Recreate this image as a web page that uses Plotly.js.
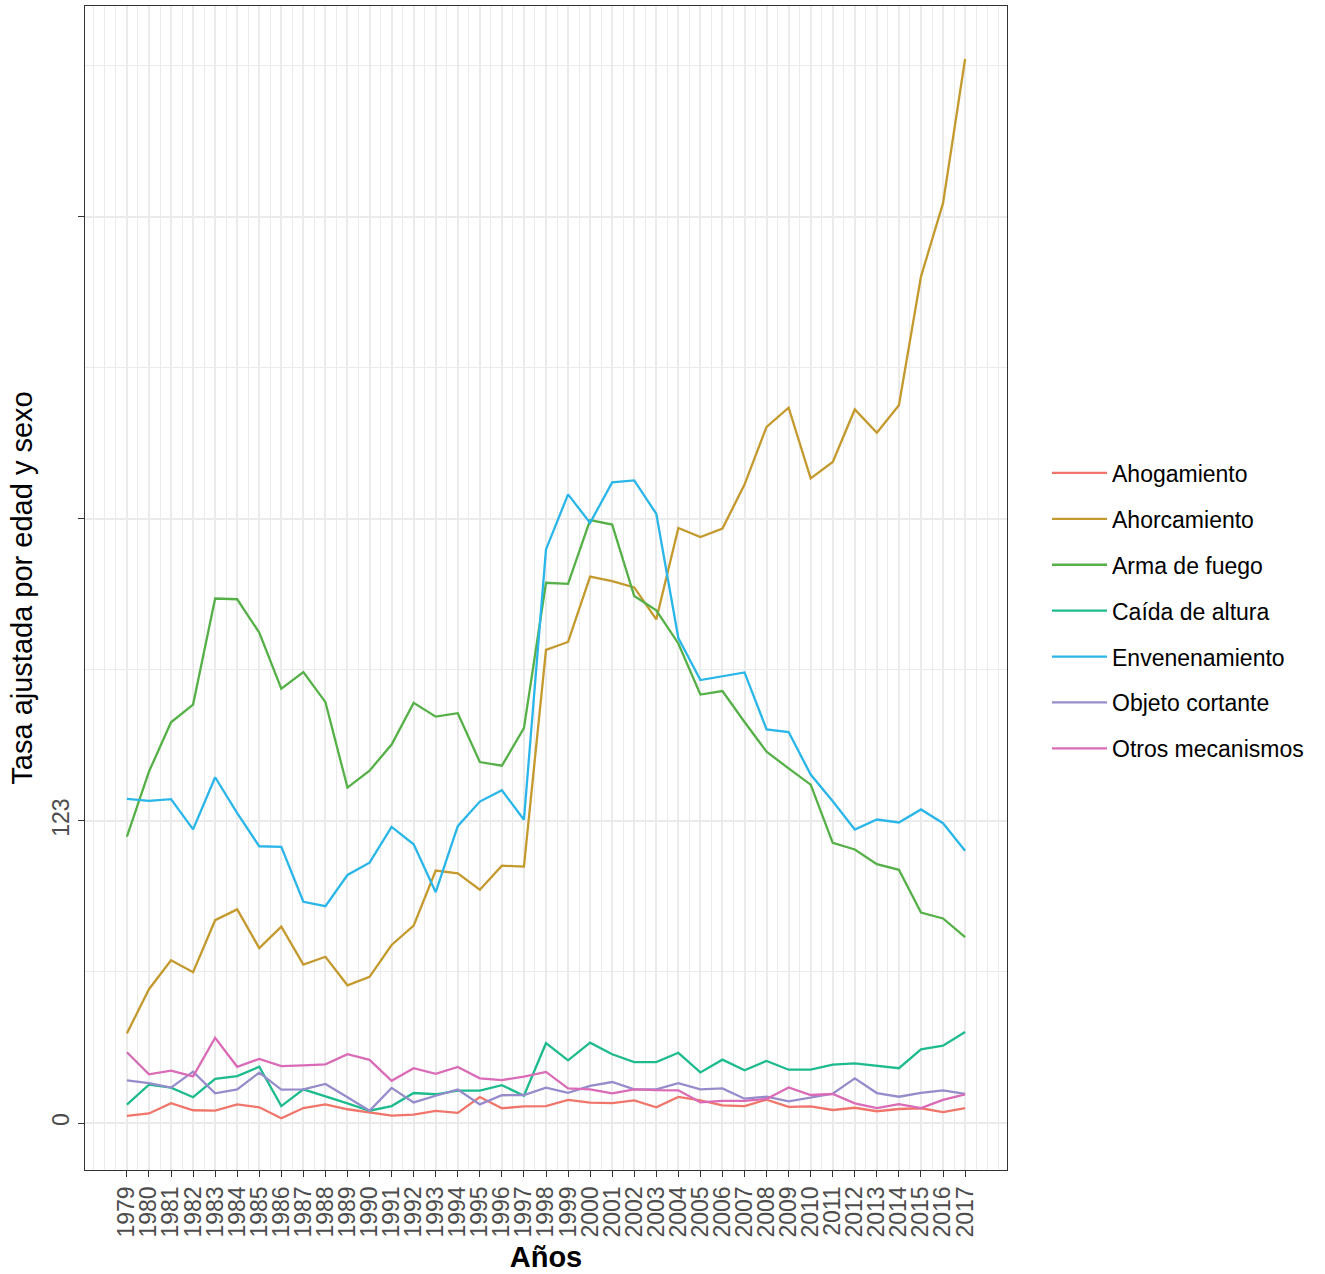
<!DOCTYPE html>
<html>
<head>
<meta charset="utf-8">
<script src="https://cdn.plot.ly/plotly-3.0.1.min.js"></script>
<style>html,body{margin:0;padding:0;background:#fff;}#chart{width:1325px;height:1274px;}</style>
</head>
<body>
<div id="chart"></div>
<script>
const years = [1979,1980,1981,1982,1983,1984,1985,1986,1987,1988,1989,1990,1991,1992,1993,1994,1995,1996,1997,1998,1999,2000,2001,2002,2003,2004,2005,2006,2007,2008,2009,2010,2011,2012,2013,2014,2015,2016,2017];
const seriesNames = ["Ahogamiento","Ahorcamiento","Arma de fuego","Caída de altura","Envenenamiento","Objeto cortante","Otros mecanismos"];
const ahogamiento = [2.9,3.9,8.1,5.2,5.0,7.6,6.4,1.9,6.1,7.6,5.6,4.4,3.0,3.4,4.9,4.1,10.6,6.0,6.8,6.9,9.4,8.3,8.1,9.2,6.4,10.6,9.2,7.2,6.9,9.5,6.6,6.8,5.3,6.2,4.8,5.7,6.0,4.4,6.1];
const ahorcamiento = [36.5,54.5,66.3,61.4,82.6,87.0,71.2,80.0,64.5,67.7,56.1,59.5,72.5,80.4,102.8,101.7,95.0,104.8,104.4,192.7,195.9,222.5,220.7,218.1,205.1,242.3,238.6,242.1,260.0,283.5,291.3,262.5,269.2,290.6,281.1,292.3,344.7,374.6,433.3];
const armaFuego = [116.6,143.1,163.2,170.4,213.6,213.3,199.7,176.9,183.6,171.4,136.6,143.5,154.1,171.1,165.5,166.9,147.0,145.5,160.8,220.0,219.6,245.5,243.7,214.6,208.8,195.3,174.5,175.9,163.3,151.2,144.4,137.8,114.1,111.4,105.4,103.1,85.7,83.3,75.7];
const caidaAltura = [7.5,15.6,14.4,10.5,18.0,19.1,22.9,6.9,13.7,11.0,8.0,5.0,6.9,12.2,11.7,13.2,13.2,15.4,11.1,32.5,25.5,32.7,28.0,24.8,24.8,28.6,20.6,25.8,21.5,25.3,21.7,21.7,23.8,24.3,23.2,22.3,30.0,31.5,37.1];
const envenenamiento = [132.0,131.2,131.9,119.6,140.8,126.2,112.7,112.5,90.1,88.3,101.0,106.0,120.6,113.5,94.0,120.9,130.9,135.5,123.5,233.6,256.0,244.4,260.9,261.7,248.1,197.5,180.4,181.8,183.5,160.3,159.2,141.9,131.0,119.5,123.6,122.4,127.7,122.1,110.9];
const objetoCortante = [17.4,16.2,14.4,20.9,12.1,13.7,20.5,13.6,13.7,15.9,10.5,5.0,14.3,8.4,11.1,13.6,7.6,11.3,11.4,14.4,12.3,15.1,16.7,13.7,13.7,16.2,13.7,14.1,9.9,10.7,8.8,10.2,11.9,18.2,12.2,10.7,12.3,13.3,11.9];
const otrosMecanismos = [28.8,19.8,21.3,19.0,34.7,22.9,26.1,23.2,23.5,23.9,28.0,25.7,17.2,22.3,20.0,22.8,18.2,17.5,18.9,20.8,14.1,13.7,12.1,13.7,13.4,13.3,8.4,9.0,9.0,9.8,14.5,11.4,11.8,8.0,6.1,7.7,6.1,9.4,11.7];
const yTickVals = [0,123,246,369];
const yTickText = ["0","123","",""];
const yMinorVals = [61.5,184.5,307.5,430.5];

const colors = ["#F0766C","#C4992E","#55B047","#1DBB8E","#2AB6E8","#978CCB","#DA6BB6"];
const allSeries = [ahogamiento, ahorcamiento, armaFuego, caidaAltura, envenenamiento, objetoCortante, otrosMecanismos];

const traces = allSeries.map((vals, i) => ({
  type: "scatter",
  mode: "lines",
  x: years,
  y: vals,
  name: seriesNames[i],
  legendgroup: "g" + i,
  line: {color: colors[i], width: 2.3},
  hoverinfo: "x+y+name"
}));

const fontFam = "'Liberation Sans', Arial, Helvetica, sans-serif";
const layout = {
  width: 1325,
  height: 1274,
  paper_bgcolor: "#ffffff",
  plot_bgcolor: "#ffffff",
  font: {family: fontFam, color: "#000000"},
  margin: {l: 85, r: 318, t: 6, b: 104, pad: 0},
  showlegend: true,
  legend: {
    xref: "container", yref: "container",
    x: 1047/1325, y: 1 - 611/1274,
    xanchor: "left", yanchor: "middle",
    font: {family: fontFam, size: 23, color: "#000000"},
    tracegroupgap: 13,
    itemwidth: 55,
    bgcolor: "rgba(0,0,0,0)",
    borderwidth: 0
  },
  xaxis: {
    range: [1977.1, 2018.9],
    tickmode: "array",
    tickvals: years,
    ticktext: years.map(String),
    tickangle: -90,
    tickfont: {family: fontFam, size: 23, color: "#4D4D4D"},
    ticks: "outside",
    ticklen: 6,
    tickwidth: 1.3,
    tickcolor: "#333333",
    showgrid: true,
    gridcolor: "#EBEBEB",
    gridwidth: 1.7,
    minor: {dtick: 0.5, tick0: 0, showgrid: true, gridcolor: "#EBEBEB", gridwidth: 0.9, ticks: ""},
    showline: true,
    linecolor: "#333333",
    linewidth: 1.3,
    mirror: true,
    zeroline: false,
    automargin: false,
    title: {text: "<b>Años</b>", font: {family: fontFam, size: 29, color: "#000000"}, standoff: 10}
  },
  yaxis: {
    range: [-19.14, 454.9],
    tickmode: "array",
    tickvals: yTickVals,
    ticktext: yTickText,
    tickangle: -90,
    tickfont: {family: fontFam, size: 23, color: "#4D4D4D"},
    ticks: "outside",
    ticklen: 6,
    tickwidth: 1.3,
    tickcolor: "#333333",
    showgrid: true,
    gridcolor: "#EBEBEB",
    gridwidth: 1.7,
    minor: {tickmode: "array", tickvals: yMinorVals, showgrid: true, gridcolor: "#EBEBEB", gridwidth: 0.9, ticks: ""},
    showline: true,
    linecolor: "#333333",
    linewidth: 1.3,
    mirror: true,
    zeroline: false,
    automargin: false,
    title: {text: "Tasa ajustada por edad y sexo", font: {family: fontFam, size: 29, color: "#000000"}, standoff: 6}
  }
};

Plotly.newPlot("chart", traces, layout, {displayModeBar: false, responsive: false});
</script>
</body>
</html>
